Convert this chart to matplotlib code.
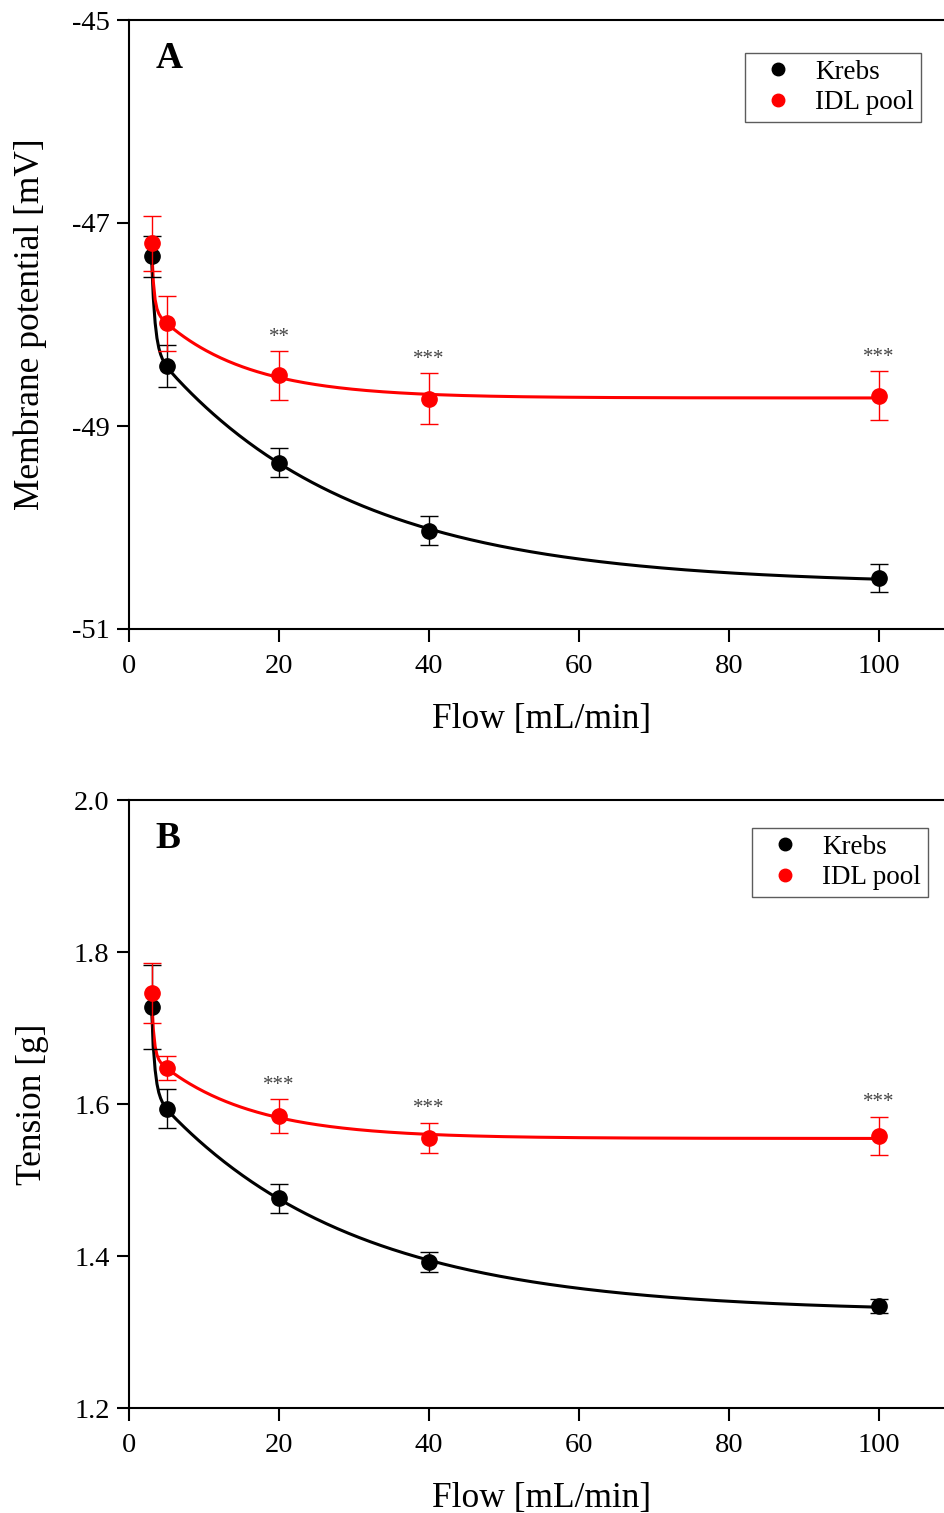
import numpy as np
import matplotlib
matplotlib.use("Agg")
import matplotlib.pyplot as plt

plt.rcParams['font.family'] = ['Liberation Serif', 'DejaVu Serif']

flow = [3, 5, 20, 40, 100]

# Panel A: membrane potential [mV]
krebs_mp = [-47.33, -48.41, -49.36, -50.03, -50.50]
krebs_mp_err = [0.20, 0.21, 0.14, 0.14, 0.14]
idl_mp = [-47.20, -47.99, -48.50, -48.73, -48.70]
idl_mp_err = [0.27, 0.27, 0.24, 0.25, 0.24]
stars_mp = {20: "**", 40: "***", 100: "***"}

# Panel B: tension [g]
krebs_t = [1.728, 1.594, 1.476, 1.392, 1.334]
krebs_t_err = [0.055, 0.026, 0.019, 0.013, 0.009]
idl_t = [1.746, 1.647, 1.584, 1.555, 1.558]
idl_t_err = [0.039, 0.016, 0.022, 0.020, 0.025]
stars_t = {20: "***", 40: "***", 100: "***"}

fig = plt.figure(figsize=(9.44, 15.13), dpi=100)

W, H = 944, 1513
XMAX = 110.0
axw = (XMAX * 7.5) / W
axA = fig.add_axes([129 / W, 1 - 629 / H, axw, 609 / H])
axB = fig.add_axes([129 / W, 1 - 1408 / H, axw, 608 / H])


def expdec2_fit(x, y, n=400):
    """Least-squares fit y = y0 + A1*exp(-x/t1) + A2*exp(-x/t2)."""
    x = np.asarray(x, float)
    y = np.asarray(y, float)
    best = None
    for t1 in np.geomspace(0.3, 8, 60):
        for t2 in np.geomspace(8, 300, 60):
            A = np.vstack([np.ones_like(x), np.exp(-x / t1), np.exp(-x / t2)]).T
            coef, *_ = np.linalg.lstsq(A, y, rcond=None)
            r = np.sum((A @ coef - y) ** 2)
            if best is None or r < best[0]:
                best = (r, t1, t2, coef)
    _, t1, t2, c = best
    xs = np.linspace(x.min(), x.max(), n)
    return xs, c[0] + c[1] * np.exp(-xs / t1) + c[2] * np.exp(-xs / t2)


def panel(ax, yk, ek, yi, ei, stars, ylim, yticks, yticklabels, ylabel, letter, leg_anchor, star_pad):
    for y, c in [(yk, 'black'), (yi, 'red')]:
        xs, ys = expdec2_fit(flow, y)
        ax.plot(xs, ys, color=c, lw=2.2, zorder=2)
    ax.errorbar(flow, yk, yerr=ek, fmt='o', color='black', ms=11, capsize=6.5,
                elinewidth=1.0, capthick=1.0, zorder=3)
    ax.errorbar(flow, yi, yerr=ei, fmt='o', color='red', ms=11, capsize=6.5,
                elinewidth=1.0, capthick=1.0, zorder=4)
    for xv, s in stars.items():
        i = flow.index(xv)
        ax.text(xv, yi[i] + ei[i] + star_pad, s, ha='center', va='bottom',
                fontsize=15, color='#444444')
    ax.set_xlim(0, XMAX)
    ax.set_ylim(*ylim)
    ax.set_xticks([0, 20, 40, 60, 80, 100])
    ax.set_yticks(yticks)
    ax.set_yticklabels(yticklabels)
    ax.tick_params(direction='out', length=9, width=1.5, labelsize=20.5)
    ax.tick_params(axis='x', pad=9)
    ax.tick_params(axis='y', pad=5)
    for s in ['left', 'bottom', 'top']:
        ax.spines[s].set_linewidth(1.5)
    ax.spines['right'].set_visible(False)
    ax.set_xlabel('Flow [mL/min]', fontsize=25.5, labelpad=17)
    ax.set_ylabel(ylabel, fontsize=25.5, labelpad=18)
    ax.text(0.032, 0.966, letter, transform=ax.transAxes, fontsize=27,
            fontweight='bold', va='top', ha='left')
    handles = [plt.Line2D([], [], marker='o', ls='', color=c, ms=9) for c in ['black', 'red']]
    leg = ax.legend(handles, ['Krebs', 'IDL pool'], loc='upper right',
                    bbox_to_anchor=leg_anchor, bbox_transform=fig.transFigure,
                    fontsize=19.5, frameon=True, fancybox=False, edgecolor='#333333',
                    handlelength=1.9, handletextpad=0.45, borderpad=0.25,
                    labelspacing=0.2, borderaxespad=0)
    leg.get_frame().set_linewidth(1.0)


panel(axA, krebs_mp, krebs_mp_err, idl_mp, idl_mp_err, stars_mp,
      (-51, -45), [-51, -49, -47, -45], ['-51', '-49', '-47', '-45'],
      'Membrane potential [mV]', 'A', (921 / W, 1 - 53 / H), 0.04)
panel(axB, krebs_t, krebs_t_err, idl_t, idl_t_err, stars_t,
      (1.2, 2.0), [1.2, 1.4, 1.6, 1.8, 2.0], ['1.2', '1.4', '1.6', '1.8', '2.0'],
      'Tension [g]', 'B', (928 / W, 1 - 828 / H), 0.006)

fig.savefig('out.png', dpi=100)
